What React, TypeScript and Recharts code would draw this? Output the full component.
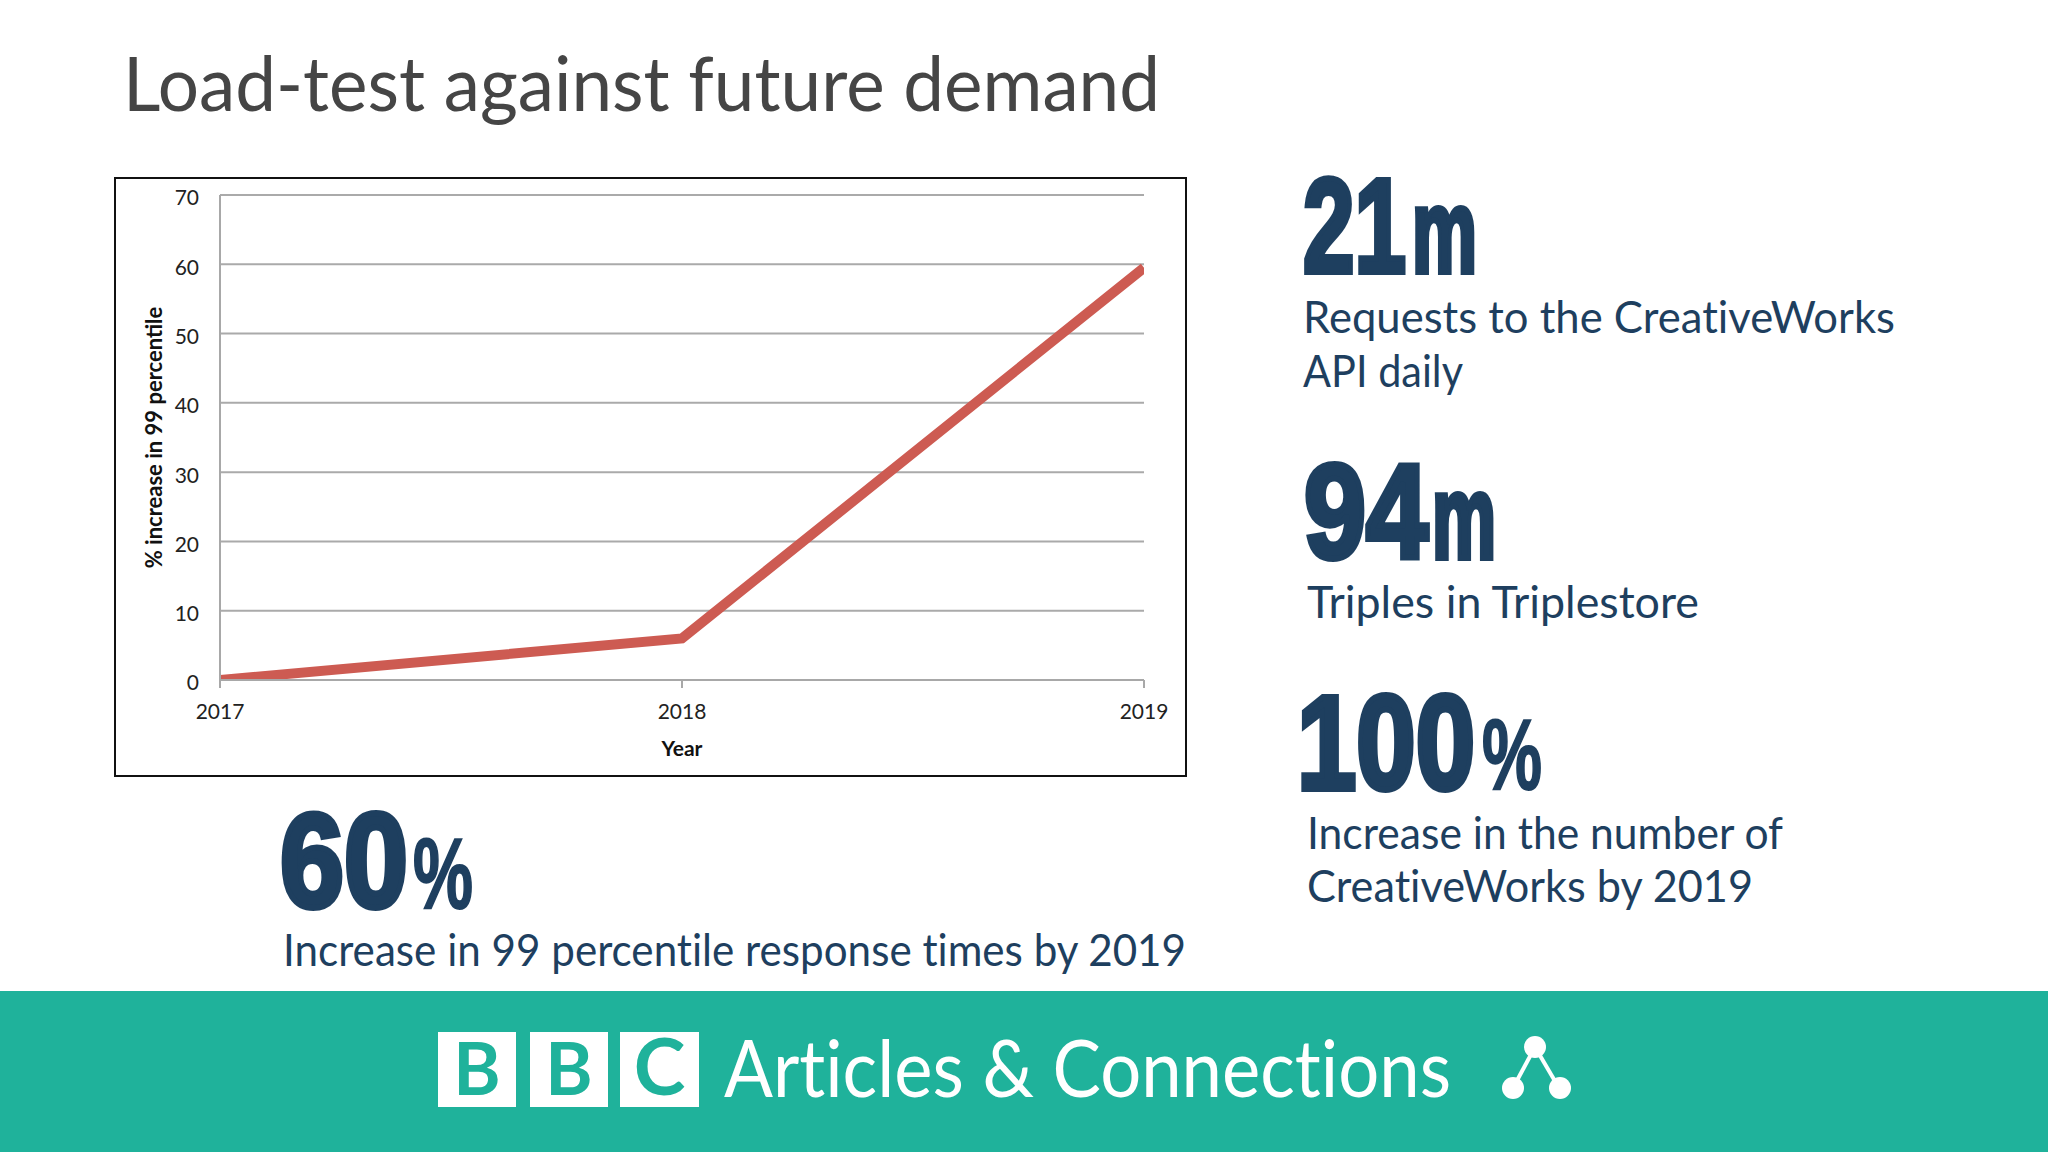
import React from "react";
import { LineChart, Line, XAxis, YAxis, CartesianGrid, Label } from "recharts";

const years = ["2017", "2018", "2019"];
const percentIncrease = [0, 6, 59.5];
const yTicks = [0, 10, 20, 30, 40, 50, 60, 70];
const chartData = years.map((year, i) => ({ year, value: percentIncrease[i] }));

const NAVY = "#1e3f5f";
const TEAL = "#1fb29b";
const BODY = "Lato, sans-serif";
const HEAVY = '"Liberation Sans Narrow", sans-serif';

function Fit({ x, y, w, size, fill = NAVY, children, family = BODY, weight = 400, stroke = 0 }: any) {
  return (
    <text
      x={x}
      y={y}
      textLength={w}
      lengthAdjust="spacingAndGlyphs"
      fontFamily={family}
      fontSize={size}
      fontWeight={weight}
      fill={fill}
      stroke={stroke ? fill : "none"}
      strokeWidth={stroke}
      style={{ fontVariantLigatures: "none" }}
    >
      {children}
    </text>
  );
}

function Big({ x, y, w, size, children, stroke = 6 }: any) {
  return (
    <Fit x={x} y={y} w={w} size={size} family={HEAVY} weight={700} stroke={stroke}>
      {children}
    </Fit>
  );
}

function Slide() {
  return (
    <svg width={2048} height={1152} style={{ position: "absolute", left: 0, top: 0 }}>
      <rect x={0} y={0} width={2048} height={1152} fill="#ffffff" />
      <Fit x={123} y={111} w={1037} size={76} fill="#454545">Load-test against future demand</Fit>

      <Big x={1303} y={272} w={103} size={134}>21</Big>
      <Big x={1412} y={272} w={65} size={118}>m</Big>
      <Fit x={1303} y={333} w={592} size={44}>Requests to the CreativeWorks</Fit>
      <Fit x={1303} y={387} w={160} size={44}>API daily</Fit>

      <Big x={1304} y={558} w={124} size={134}>94</Big>
      <Big x={1432} y={558} w={64} size={118}>m</Big>
      <Fit x={1307} y={618} w={392} size={44}>Triples in Triplestore</Fit>

      <Big x={1297} y={789} w={178} size={134}>100</Big>
      <Big x={1482} y={789} w={60} size={100} stroke={2}>%</Big>
      <Fit x={1307} y={849} w={476} size={44}>Increase in the number of</Fit>
      <Fit x={1307} y={902} w={446} size={44}>CreativeWorks by 2019</Fit>

      <Big x={280} y={907} w={128} size={134}>60</Big>
      <Big x={413} y={908} w={60} size={100} stroke={2}>%</Big>
      <Fit x={283} y={966} w={903} size={44}>Increase in 99 percentile response times by 2019</Fit>

      <rect x={0} y={991} width={2048} height={161} fill={TEAL} />
      {[
        [438, 78, "B"],
        [530, 78, "B"],
        [620, 79, "C"],
      ].map(([x, w, letter]: any, i) => (
        <g key={i}>
          <rect x={x} y={1032} width={w} height={75} fill="#ffffff" />
          <text
            x={x + w / 2}
            y={1095}
            textAnchor="middle"
            fontFamily={BODY}
            fontWeight={700}
            fontSize={letter === "C" ? 78 : 72}
            fill={TEAL}
          >
            {letter}
          </text>
        </g>
      ))}
      <Fit x={724} y={1097} w={727} size={79} fill="#ffffff">Articles &amp; Connections</Fit>
      <g stroke="#ffffff" strokeWidth={4} fill="#ffffff">
        <line x1={1535} y1={1047} x2={1513} y2={1088} />
        <line x1={1535} y1={1047} x2={1559} y2={1088} />
        <circle cx={1535} cy={1047} r={11} stroke="none" />
        <circle cx={1513} cy={1088} r={11} stroke="none" />
        <circle cx={1560} cy={1088} r={11} stroke="none" />
      </g>
    </svg>
  );
}

const tickStyle = { fontFamily: BODY, fontSize: 21, fill: "#222222" };

export default function App() {
  return (
    <div style={{ position: "absolute", left: 0, top: 0, width: 2048, height: 1152, overflow: "hidden", background: "#fff" }}>
      <Slide />
      <div
        style={{
          position: "absolute",
          left: 114,
          top: 177,
          width: 1073,
          height: 600,
          boxSizing: "border-box",
          border: "2px solid #111111",
          background: "#ffffff",
        }}
      >
        <LineChart
          width={1069}
          height={596}
          data={chartData}
          margin={{ top: 16, right: 41, bottom: 0, left: 0 }}
        >
          <CartesianGrid horizontal vertical={false} stroke="#aaaaaa" strokeWidth={2} />
          <XAxis
            dataKey="year"
            type="category"
            scale="point"
            padding={{ left: 0, right: 0 }}
            height={95}
            interval={0}
            allowDataOverflow
            tick={{ ...tickStyle, dy: 8 }}
            tickSize={8}
            tickMargin={8}
            stroke="#a8a8a8"
            strokeWidth={2}
          >
            <Label value="Year" position="insideTop" offset={52} dy={9} style={{ fontFamily: BODY, fontSize: 21, fontWeight: 700, fill: "#111111" }} />
          </XAxis>
          <YAxis
            domain={[0, 70]}
            ticks={yTicks}
            width={104}
            interval={0}
            allowDataOverflow
            tick={{ ...tickStyle, dy: 3 }}
            tickSize={0}
            tickMargin={21}
            stroke="#a8a8a8"
            strokeWidth={2}
          >
            <Label
              value="% increase in 99 percentile"
              angle={-90}
              position="insideLeft"
              offset={38}
              style={{ fontFamily: BODY, fontSize: 22, fontWeight: 700, fill: "#111111", textAnchor: "middle" }}
            />
          </YAxis>
          <Line
            dataKey="value"
            type="linear"
            stroke="#cd5b52"
            strokeWidth={10}
            dot={false}
            isAnimationActive={false}
            strokeLinecap="butt"
            strokeLinejoin="miter"
          />
        </LineChart>
      </div>
    </div>
  );
}
